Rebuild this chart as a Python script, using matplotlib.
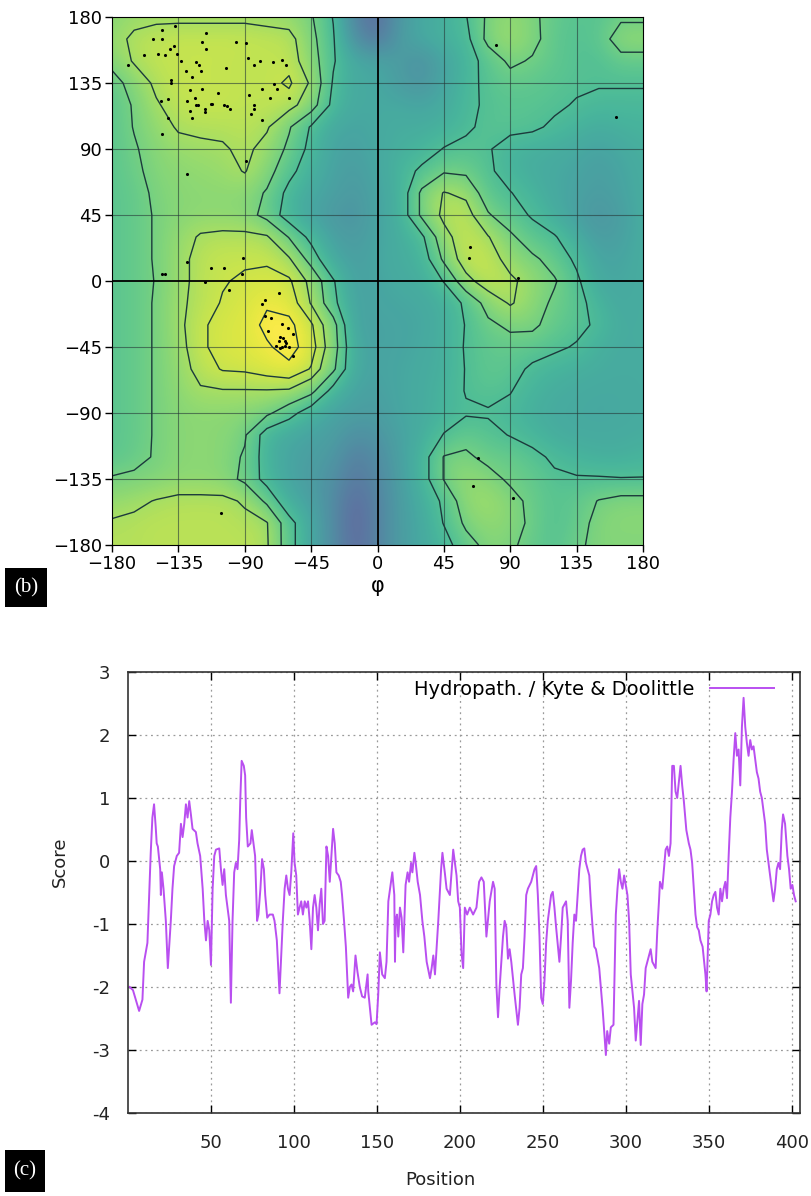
import numpy as np
import matplotlib
matplotlib.use("Agg")
import matplotlib.pyplot as plt
from matplotlib import font_manager
from matplotlib.patches import Rectangle

# ---------------- panel (b): Ramachandran plot ----------------
# density grid, 15 deg nodes, rows from psi=180 down to psi=-180
phi_nodes = np.arange(-180, 181, 15)
psi_nodes = np.arange(180, -181, -15)

density = np.array([
    [0.74, 0.77, 0.78, 0.78, 0.78, 0.78, 0.78, 0.77, 0.76, 0.71, 0.595, 0.32, 0.22, 0.42, 0.50, 0.53, 0.595, 0.72, 0.76, 0.72, 0.66, 0.63, 0.63, 0.68, 0.68],
    [0.76, 0.82, 0.84, 0.85, 0.85, 0.85, 0.85, 0.84, 0.83, 0.73, 0.61, 0.38, 0.26, 0.44, 0.50, 0.54, 0.57, 0.73, 0.78, 0.73, 0.65, 0.62, 0.64, 0.76, 0.76],
    [0.73, 0.81, 0.84, 0.85, 0.85, 0.85, 0.84, 0.84, 0.84, 0.75, 0.61, 0.50, 0.48, 0.44, 0.38, 0.48, 0.55, 0.64, 0.72, 0.69, 0.65, 0.62, 0.61, 0.66, 0.66],
    [0.66, 0.74, 0.82, 0.85, 0.85, 0.85, 0.84, 0.84, 0.87, 0.79, 0.59, 0.50, 0.50, 0.44, 0.40, 0.49, 0.56, 0.63, 0.66, 0.65, 0.63, 0.62, 0.61, 0.61, 0.61],
    [0.64, 0.71, 0.79, 0.84, 0.85, 0.85, 0.84, 0.84, 0.83, 0.75, 0.57, 0.50, 0.50, 0.50, 0.48, 0.51, 0.57, 0.62, 0.63, 0.63, 0.62, 0.59, 0.57, 0.57, 0.57],
    [0.64, 0.705, 0.76, 0.81, 0.82, 0.82, 0.83, 0.81, 0.71, 0.59, 0.50, 0.48, 0.50, 0.52, 0.52, 0.54, 0.58, 0.63, 0.63, 0.62, 0.58, 0.55, 0.52, 0.54, 0.55],
    [0.64, 0.69, 0.74, 0.77, 0.78, 0.79, 0.82, 0.77, 0.68, 0.57, 0.48, 0.46, 0.50, 0.53, 0.55, 0.605, 0.63, 0.61, 0.55, 0.53, 0.52, 0.50, 0.47, 0.50, 0.53],
    [0.64, 0.68, 0.73, 0.75, 0.76, 0.77, 0.805, 0.74, 0.63, 0.54, 0.47, 0.44, 0.49, 0.55, 0.62, 0.69, 0.68, 0.62, 0.55, 0.52, 0.50, 0.48, 0.45, 0.48, 0.52],
    [0.64, 0.66, 0.72, 0.74, 0.75, 0.75, 0.75, 0.69, 0.57, 0.50, 0.46, 0.42, 0.48, 0.53, 0.72, 0.805, 0.78, 0.64, 0.605, 0.55, 0.50, 0.47, 0.44, 0.47, 0.52],
    [0.64, 0.66, 0.71, 0.74, 0.75, 0.75, 0.74, 0.67, 0.55, 0.48, 0.42, 0.40, 0.48, 0.53, 0.72, 0.82, 0.84, 0.71, 0.64, 0.59, 0.52, 0.46, 0.40, 0.45, 0.52],
    [0.64, 0.66, 0.71, 0.76, 0.81, 0.82, 0.82, 0.81, 0.695, 0.57, 0.46, 0.43, 0.48, 0.52, 0.58, 0.77, 0.85, 0.805, 0.72, 0.64, 0.61, 0.52, 0.44, 0.46, 0.52],
    [0.64, 0.66, 0.71, 0.77, 0.83, 0.85, 0.85, 0.85, 0.81, 0.66, 0.50, 0.45, 0.49, 0.52, 0.54, 0.72, 0.85, 0.85, 0.76, 0.72, 0.66, 0.58, 0.48, 0.48, 0.52],
    [0.64, 0.66, 0.705, 0.77, 0.83, 0.855, 0.87, 0.88, 0.87, 0.78, 0.61, 0.46, 0.48, 0.51, 0.52, 0.605, 0.77, 0.85, 0.82, 0.76, 0.71, 0.62, 0.50, 0.49, 0.52],
    [0.64, 0.66, 0.71, 0.78, 0.83, 0.865, 0.88, 0.92, 0.90, 0.795, 0.63, 0.47, 0.48, 0.49, 0.50, 0.53, 0.62, 0.74, 0.81, 0.75, 0.68, 0.64, 0.55, 0.50, 0.52],
    [0.64, 0.66, 0.71, 0.78, 0.85, 0.88, 0.89, 0.95, 0.95, 0.87, 0.74, 0.47, 0.47, 0.48, 0.49, 0.53, 0.605, 0.68, 0.72, 0.72, 0.66, 0.63, 0.58, 0.51, 0.52],
    [0.64, 0.66, 0.71, 0.77, 0.85, 0.88, 0.89, 0.92, 0.96, 0.89, 0.75, 0.50, 0.47, 0.48, 0.50, 0.53, 0.61, 0.65, 0.66, 0.65, 0.62, 0.59, 0.53, 0.51, 0.52],
    [0.64, 0.66, 0.71, 0.76, 0.83, 0.865, 0.87, 0.89, 0.91, 0.855, 0.72, 0.50, 0.47, 0.49, 0.51, 0.53, 0.605, 0.65, 0.64, 0.58, 0.55, 0.53, 0.52, 0.51, 0.51],
    [0.64, 0.66, 0.71, 0.75, 0.79, 0.795, 0.795, 0.795, 0.79, 0.73, 0.56, 0.47, 0.46, 0.49, 0.51, 0.55, 0.605, 0.63, 0.605, 0.55, 0.52, 0.51, 0.50, 0.50, 0.51],
    [0.64, 0.66, 0.71, 0.74, 0.75, 0.75, 0.74, 0.72, 0.64, 0.54, 0.47, 0.45, 0.44, 0.49, 0.51, 0.55, 0.59, 0.59, 0.57, 0.53, 0.51, 0.50, 0.49, 0.50, 0.51],
    [0.64, 0.66, 0.71, 0.74, 0.75, 0.74, 0.71, 0.55, 0.50, 0.47, 0.45, 0.38, 0.40, 0.47, 0.52, 0.605, 0.66, 0.63, 0.595, 0.56, 0.52, 0.51, 0.51, 0.51, 0.52],
    [0.64, 0.67, 0.71, 0.74, 0.75, 0.74, 0.69, 0.55, 0.48, 0.45, 0.42, 0.30, 0.36, 0.46, 0.55, 0.705, 0.72, 0.67, 0.67, 0.63, 0.58, 0.55, 0.53, 0.53, 0.55],
    [0.71, 0.72, 0.73, 0.75, 0.75, 0.74, 0.68, 0.56, 0.48, 0.44, 0.38, 0.27, 0.34, 0.45, 0.55, 0.705, 0.76, 0.74, 0.68, 0.66, 0.62, 0.61, 0.61, 0.605, 0.605],
    [0.76, 0.78, 0.805, 0.82, 0.82, 0.82, 0.79, 0.68, 0.52, 0.46, 0.36, 0.22, 0.32, 0.44, 0.52, 0.62, 0.76, 0.78, 0.74, 0.67, 0.63, 0.65, 0.705, 0.73, 0.73],
    [0.81, 0.82, 0.83, 0.83, 0.83, 0.83, 0.82, 0.805, 0.64, 0.50, 0.36, 0.20, 0.32, 0.44, 0.50, 0.605, 0.72, 0.76, 0.74, 0.68, 0.62, 0.66, 0.73, 0.74, 0.74],
    [0.82, 0.82, 0.83, 0.83, 0.83, 0.83, 0.83, 0.81, 0.64, 0.50, 0.36, 0.22, 0.32, 0.44, 0.50, 0.56, 0.66, 0.73, 0.72, 0.66, 0.63, 0.68, 0.73, 0.73, 0.73],
])
contour_levels = [0.6, 0.7, 0.8, 0.86, 0.93]

res_phi = [-146, -137, -116, -152, -146, -119, -96, -89, -138, -116, -141, -158, -149, -144, -136,
           -169, -133, -123, -121, -103, -88, -80, -84, -71, -65, -62, -130, -120, -126, -140,
           -140, -70, -78, -68, -119, -127, -108, -87, -73, -60, -147, -142, -129, -124, -123,
           -122, -113, -112, -104, -102, -100, -84, -84, -86, -117, -117, -127, -126, -142, -78,
           -146, -89, -129, -146, -144, -129, -113, -104, -91, -92,
           -117, -101, -67, -76, -78, -76, -72, -65, -61, -74, -57, -66, -64, -63, -67, -62,
           -69, -65, -63, -60, -66, -57, -106,
           80, 162, 63, 62, 95, 68, 65, 92]
res_psi = [171, 174, 169, 165, 165, 163, 163, 162, 160, 158, 158, 154, 155, 154, 155,
           147, 150, 149, 147, 145, 152, 150, 147, 149, 151, 147, 143, 143, 139, 137,
           135, 134, 131, 131, 131, 130, 128, 127, 125, 125, 123, 124, 123, 125, 120,
           120, 121, 121, 120, 119, 117, 120, 117, 114, 117, 115, 116, 111, 111, 110,
           100, 82, 73, 5, 5, 13, 9, 9, 16, 5,
           -1, -6, -8, -13, -16, -24, -25, -29, -32, -34, -36, -38, -39, -41, -41, -42,
           -44, -45, -44, -45, -46, -51, -158,
           161, 112, 23, 16, 2, -121, -140, -148]

# ---------------- panel (c): Kyte & Doolittle hydropathy ----------------
hyd_pos = [1, 3, 6.7, 8.7, 9.7, 11.7, 13.7, 14.7, 15.7, 16.7, 17.3, 18, 19.4, 19.8, 20.4, 21.4, 22.8, 24,
           25.8, 26.8, 27.8, 29.4, 30.8, 31.9, 32.9, 33.9, 34.9, 35.9, 36.9, 37.9, 38.9, 40.9, 41.9, 43.5,
           45, 46, 47, 48, 49, 50, 51, 52, 53, 55, 56, 57, 58, 59, 61, 62, 63, 64, 65, 66, 67, 67.7, 68.5,
           69.8, 70.6, 71.2, 72.2, 73.8, 74.6, 75.4, 76.6, 77.2, 77.8, 78.6, 79.8, 80.8, 81.9, 82.7, 83.9,
           85.3, 87.3, 88.3, 89.7, 91.3, 93.3, 94.4, 95.4, 96.4, 97.4, 98.4, 99.6, 100.4, 101.4, 102.4,
           103.4, 104.4, 105.4, 106.5, 107.5, 108.5, 109.5, 110.5, 111.5, 112.5, 113.5, 114.5, 115.5,
           116.5, 117.5, 118.5, 119.6, 120.6, 121.6, 122.6, 123.6, 124.6, 125.6, 127, 128.2, 129, 130.2,
           131.3, 132.7, 133.7, 134.7, 135.7, 137.1, 138.3, 139.7, 141.1, 142.7, 144.4, 144.8, 145.8,
           146.8, 148.8, 149.8, 150.8, 151.8, 153.2, 154.8, 155.8, 156.9, 158.5, 159.3, 160.5, 160.9,
           161.3, 162.1, 162.9, 163.9, 164.9, 165.9, 167.3, 168.5, 169.4, 170.6, 171.4, 172.6, 173.4,
           174.6, 176, 177.4, 178.6, 180, 182, 183, 184, 185, 187, 188.7, 189.5, 191, 192, 194, 196, 197,
           198, 199, 200, 201, 202, 203, 204.4, 206, 208, 210, 211.6, 213, 214.4, 216, 218, 220, 221, 222,
           223, 224, 226, 227, 228, 229, 230, 231, 233, 235, 236, 237, 238, 239, 240, 241, 243, 244, 245,
           246, 247, 248, 249, 250, 251, 252, 253, 254, 255, 256, 257, 258, 260, 261, 262, 264, 265, 266,
           267, 268, 269, 270, 271, 272, 273, 274, 275, 276, 277, 278, 279, 280, 281, 282, 284, 286, 287,
           288, 288.8, 290, 291, 292.6, 294, 295, 296, 297, 298, 299, 300, 301, 302, 303, 305, 306, 307,
           308, 309, 310, 311, 312, 313, 314, 315, 316, 318, 319, 320, 320.6, 322, 323, 324, 325, 326, 327,
           328, 329, 330, 331, 332, 333, 334, 335, 336.5, 338, 339, 340, 341, 342, 343, 344, 345, 346.3,
           348, 348.7, 350, 351, 352, 353, 354, 355, 356, 357, 358, 359, 360, 361, 362, 363, 364, 365,
           366, 367, 368, 369, 370, 371, 372, 373, 374, 375, 376, 377, 378, 379, 380, 381, 382, 383, 384,
           385, 386, 387, 388, 389, 390, 391, 392, 393, 394, 394.8, 396, 397.4, 398.4, 399.4, 400.4,
           401.4, 402.4]
hyd_score = [-2.0, -2.05, -2.38, -2.2, -1.6, -1.3, 0.13, 0.69, 0.9, 0.54, 0.28, 0.23, -0.13, -0.54, -0.18, -0.44, -0.95, -1.7,
             -0.95, -0.44, -0.08, 0.08, 0.13, 0.59, 0.38, 0.59, 0.9, 0.69, 0.95, 0.74, 0.51, 0.46, 0.28, 0.08,
             -0.44, -0.95, -1.26, -0.95, -1.1, -1.65, -0.44, 0.08, 0.18, 0.2, -0.13, -0.38, -0.13, -0.54, -0.95, -2.25, -0.95, -0.18, -0.03, -0.13, 0.33, 1.0, 1.59,
             1.51, 1.36, 0.69, 0.23, 0.28, 0.49, 0.33, 0.08, -0.44, -0.95, -0.85, -0.44, 0.03, -0.13, -0.54, -0.9,
             -0.85, -0.85, -0.95, -1.26, -2.1, -0.95, -0.44, -0.23, -0.44, -0.54, -0.18, 0.44, -0.03, -0.23, -0.85,
             -0.74, -0.64, -0.85, -0.64, -0.74, -0.64, -0.95, -1.4, -0.74, -0.54, -0.74, -1.1, -0.69,
             -0.44, -1.0, -0.95, 0.23, 0.08, -0.33, 0.08, 0.51, 0.28, -0.18, -0.23, -0.33, -0.54, -0.95,
             -1.36, -2.17, -2.0, -1.96, -2.07, -1.5, -1.76, -2.0, -2.15, -2.17, -1.8, -2.07, -2.33,
             -2.6, -2.56, -2.59, -2.12, -1.45, -1.8, -1.86, -1.6, -0.64, -0.33, -0.18, -0.54, -1.6,
             -0.95, -0.85, -1.2, -0.74, -0.9, -1.45, -0.38, -0.18, -0.33, -0.03, -0.18, 0.13, -0.03,
             -0.33, -0.54, -0.95, -1.2, -1.6, -1.86, -1.7, -1.5, -1.8, -0.95, -0.13, 0.13, -0.2, -0.44, -0.54, 0.18, -0.03,
             -0.23, -0.64, -0.74, -1.46, -1.7, -0.74, -0.85, -0.74, -0.85, -0.74, -0.33, -0.26, -0.33, -1.2, -0.64, -0.33, -0.44, -1.96,
             -2.48, -2.0, -1.2, -0.95, -1.05, -1.55, -1.4, -1.6, -2.12, -2.6, -2.33, -1.8, -1.7, -1.2, -0.54, -0.44, -0.33, -0.23, -0.13,
             -0.08, -0.54, -1.2, -2.17, -2.27, -1.9, -1.3, -0.95, -0.74, -0.54, -0.49, -0.74, -1.05, -1.6, -1.2, -0.74, -0.64, -0.95, -2.33,
             -1.9, -1.3, -0.85, -0.95, -0.54, -0.13, 0.08, 0.18, 0.2, -0.03, -0.13, -0.23, -0.69, -1.05, -1.36, -1.4, -1.7, -2.33, -2.7,
             -3.08, -2.7, -2.9, -2.64, -2.6, -0.85, -0.44, -0.13, -0.33, -0.44, -0.23, -0.38, -0.54, -0.95, -1.8, -2.33, -2.85, -2.53,
             -2.22, -2.92, -2.27, -2.12, -1.7, -1.6, -1.5, -1.4, -1.6, -1.7, -1.1, -0.64, -0.33, -0.44, -0.13, 0.18, 0.23, 0.08, 0.28,
             1.51, 1.51, 1.1, 1.0, 1.26, 1.51, 1.2, 0.95, 0.49, 0.28, 0.18, -0.03, -0.44, -0.85, -1.05, -1.1, -1.26, -1.36,
             -1.8, -2.07, -0.95, -0.85, -0.64, -0.54, -0.49, -0.74, -0.85, -0.44, -0.64, -0.44, -0.33, -0.59, 0.08, 0.69, 1.1, 1.62,
             2.03, 1.67, 1.77, 1.2, 2.13, 2.59, 2.13, 1.87, 1.67, 1.92, 1.77, 1.82, 1.62, 1.41, 1.31, 1.1, 1.0, 0.8, 0.59,
             0.18, -0.03, -0.23, -0.44, -0.64, -0.44, -0.13, -0.03, -0.13, 0.49, 0.74, 0.59, 0.08, -0.13, -0.44, -0.38,
             -0.54, -0.64]
hyd_xticks = [50, 100, 150, 200, 250, 300, 350, 400]
hyd_yticks = [-4, -3, -2, -1, 0, 1, 2, 3]

names = {f.name for f in font_manager.fontManager.ttflist}
if 'Liberation Sans Narrow' in names:
    rama_font, rama_size = 'Liberation Sans Narrow', 17
else:
    rama_font, rama_size = 'DejaVu Sans', 13

W, H = 811, 1196
fig = plt.figure(figsize=(W / 100, H / 100), dpi=100)

# ---- (b)
ax1 = fig.add_axes([112 / W, 1 - 545 / H, 531 / W, 528 / H])
ax1.imshow(density, extent=(-187.5, 187.5, -187.5, 187.5), origin='upper', cmap='viridis',
           vmin=0.0, vmax=0.95, interpolation='bicubic', alpha=0.82, aspect='auto')
ax1.contour(phi_nodes, psi_nodes[::-1], density[::-1], levels=contour_levels,
            colors='#1c3a3c', linewidths=1.0)
for v in [-135, -90, -45, 45, 90, 135]:
    ax1.axvline(v, color='#263838', lw=0.8, alpha=0.6)
    ax1.axhline(v, color='#263838', lw=0.8, alpha=0.6)
ax1.axvline(0, color='black', lw=1.3)
ax1.axhline(0, color='black', lw=1.3)
ax1.scatter(res_phi, res_psi, s=5, c='black', zorder=5, linewidths=0)
ax1.set_xlim(-180, 180)
ax1.set_ylim(-180, 180)
ax1.set_xticks(range(-180, 181, 45))
ax1.set_yticks(range(-180, 181, 45))
ax1.tick_params(direction='out', length=5, width=1, labelsize=rama_size, pad=2)
for lab in ax1.get_xticklabels() + ax1.get_yticklabels():
    lab.set_fontfamily([rama_font, 'DejaVu Sans'])
ax1.set_xlabel('φ', fontsize=15, labelpad=2)

# ---- (c)
ax2 = fig.add_axes([128 / W, 1 - 1113 / H, 672 / W, 441 / H])
ax2.plot(hyd_pos, hyd_score, color='#b94ff0', lw=1.4, label='Hydropath. / Kyte & Doolittle')
ax2.set_xlim(0, 405)
ax2.set_ylim(-4, 3)
ax2.set_xticks(hyd_xticks, labels=[str(t) for t in hyd_xticks])
ax2.set_yticks(hyd_yticks, labels=[str(t) for t in hyd_yticks])
ax2.grid(True, linestyle=(0, (1.5, 3)), color='#9a9a9a', lw=0.9)
ax2.tick_params(direction='in', top=True, right=True, length=6, width=1,
                labelsize=13, labelcolor='#222222')
ax2.tick_params(axis='x', pad=15)
ax2.tick_params(axis='y', pad=13)
for s in ax2.spines.values():
    s.set_linewidth(1.2)
    s.set_color('#333333')
ax2.legend(loc='upper right', frameon=False, markerfirst=False, handlelength=3.3,
           fontsize=14, borderaxespad=0, bbox_to_anchor=(1 - 18 / 672, 1.0))
fig.text(60 / W, 1 - 862 / H, 'Score', rotation=90, ha='center', va='center', fontsize=13, color='#222222')
fig.text(440 / W, 1 - 1180 / H, 'Position', ha='center', va='center', fontsize=13, color='#222222')

# panel letters
for (x0, y0, w, h, txt) in [(5, 568, 42, 39, '(b)'), (5, 1150, 40, 42, '(c)')]:
    fig.add_artist(Rectangle((x0 / W, 1 - (y0 + h) / H), w / W, h / H,
                             transform=fig.transFigure, facecolor='black', edgecolor='none'))
    fig.text((x0 + w / 2) / W, 1 - (y0 + h / 2) / H, txt, color='white', ha='center', va='center',
             fontsize=15, family=['Liberation Serif', 'DejaVu Serif'])

fig.savefig('out.png', dpi=100)
